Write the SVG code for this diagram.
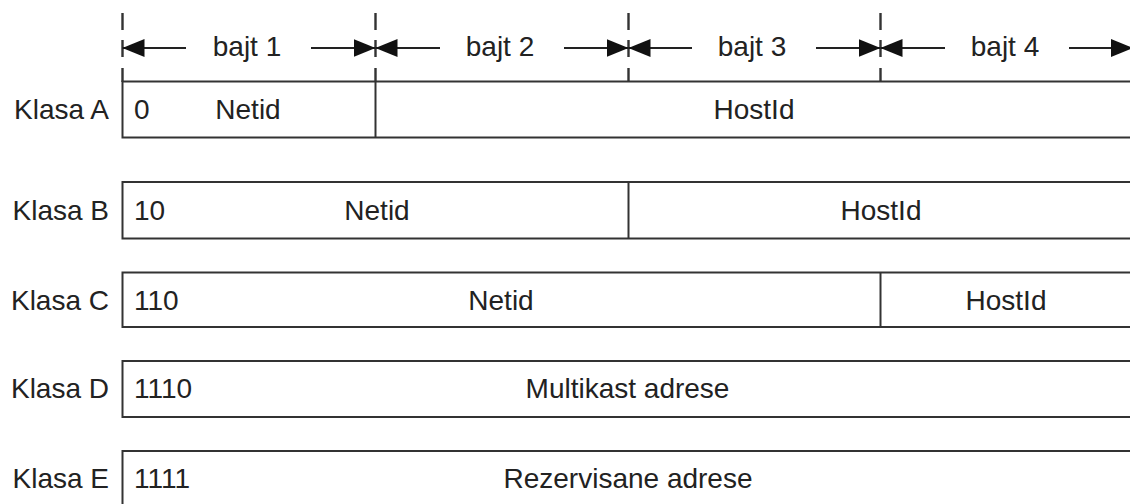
<svg xmlns="http://www.w3.org/2000/svg" width="1130" height="504" viewBox="0 0 1130 504">
<style>
text{font-family:"Liberation Sans",Arial,sans-serif;font-size:28px;fill:#222}
.lbl{text-anchor:end}
.mid{text-anchor:middle}
.box{fill:#fff;stroke:#333;stroke-width:2}
.div{stroke:#333;stroke-width:2}
.tick{stroke:#333;stroke-width:2.4}
.dim{stroke:#222;stroke-width:2;fill:none;marker-end:url(#ah)}
</style>
<defs>
<marker id="ah" viewBox="0 0 22 18" refX="22" refY="9" markerWidth="22" markerHeight="18" markerUnits="userSpaceOnUse" orient="auto">
<path d="M0,0 L22,9 L0,18 z" fill="#111"/>
</marker>
</defs>
<rect width="1130" height="504" fill="#fff"/>

<g id="ticks">
<path class="tick" d="M122.5,13V30M122.5,40V57M122.5,68V82M375.5,13V30M375.5,40V57M375.5,68V82M628.5,13V30M628.5,40V57M628.5,68V82M880.5,13V30M880.5,40V57M880.5,68V82"/>
</g>

<g id="connectors">
<line class="dim" x1="186" y1="48" x2="122.5" y2="48"/>
<line class="dim" x1="311" y1="48" x2="375.5" y2="48"/>
<line class="dim" x1="440" y1="48" x2="375.5" y2="48"/>
<line class="dim" x1="564" y1="48" x2="628.5" y2="48"/>
<line class="dim" x1="692" y1="48" x2="628.5" y2="48"/>
<line class="dim" x1="816" y1="48" x2="880.5" y2="48"/>
<line class="dim" x1="945" y1="48" x2="880.5" y2="48"/>
<line class="dim" x1="1069" y1="48" x2="1133" y2="48"/>
</g>

<g id="bytes">
<text class="mid" x="247" y="56">bajt 1</text>
<text class="mid" x="500" y="56">bajt 2</text>
<text class="mid" x="752" y="56">bajt 3</text>
<text class="mid" x="1005" y="56">bajt 4</text>
</g>

<g id="klasa-a">
<rect class="box" x="122.5" y="81.5" width="1020" height="56"/>
<line class="div" x1="375.5" y1="81.5" x2="375.5" y2="137.5"/>
<text class="lbl" x="109" y="118.5">Klasa A</text>
<text x="134" y="118.5">0</text>
<text class="mid" x="248" y="118.5">Netid</text>
<text class="mid" x="754" y="118.5">HostId</text>
</g>

<g id="klasa-b">
<rect class="box" x="122.5" y="182" width="1020" height="56.5"/>
<line class="div" x1="628.5" y1="182" x2="628.5" y2="238.5"/>
<text class="lbl" x="109" y="220">Klasa B</text>
<text x="134" y="220">10</text>
<text class="mid" x="377" y="220">Netid</text>
<text class="mid" x="881" y="220">HostId</text>
</g>

<g id="klasa-c">
<rect class="box" x="122.5" y="272.5" width="1020" height="54.5"/>
<line class="div" x1="880.5" y1="272.5" x2="880.5" y2="327"/>
<text class="lbl" x="109" y="309.5">Klasa C</text>
<text x="134" y="309.5">110</text>
<text class="mid" x="501" y="309.5">Netid</text>
<text class="mid" x="1006" y="309.5">HostId</text>
</g>

<g id="klasa-d">
<rect class="box" x="122.5" y="361" width="1020" height="56"/>
<text class="lbl" x="109" y="398">Klasa D</text>
<text x="134" y="398">1110</text>
<text class="mid" x="627.5" y="398">Multikast adrese</text>
</g>

<g id="klasa-e">
<rect class="box" x="122.5" y="451" width="1020" height="70"/>
<text class="lbl" x="109" y="487.5">Klasa E</text>
<text x="134" y="487.5">1111</text>
<text class="mid" x="628" y="487.5">Rezervisane adrese</text>
</g>
</svg>
